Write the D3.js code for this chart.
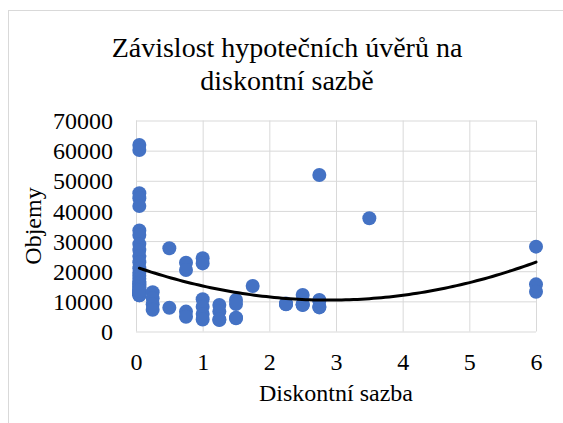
<!DOCTYPE html>
<html>
<head>
<meta charset="utf-8">
<script src="https://cdn.jsdelivr.net/npm/d3@7/dist/d3.min.js"></script>
<style>
  body { margin: 0; background: #fff; }
  svg text { font-family: "Liberation Serif", "Times New Roman", serif; fill: #000; }
</style>
</head>
<body>
<div id="chart"></div>
<script>
// values (many points overlap where the rate stayed the same)
var sazba = [
  0.05, 0.05, 0.05, 0.05, 0.05,
  0.05, 0.05, 0.05, 0.05, 0.05, 0.05, 0.05, 0.05, 0.05, 0.05,
  0.05, 0.05, 0.05, 0.05, 0.05, 0.05, 0.05, 0.05, 0.05, 0.05,
  0.05, 0.05, 0.05, 0.05, 0.05,
  0.25, 0.25, 0.25, 0.25,
  0.5, 0.5,
  0.75, 0.75, 0.75, 0.75,
  1, 1, 1, 1, 1, 1,
  1.25, 1.25, 1.25, 1.25,
  1.5, 1.5, 1.5, 1.5,
  1.75,
  2.25, 2.25, 2.25,
  2.5, 2.5, 2.5, 2.5,
  2.75, 2.75, 2.75, 2.75, 2.75,
  3.5,
  6, 6, 6
];
var objemy = [
  61900, 60200, 45850, 44200, 41650,
  33500, 32000, 29000, 27000, 25000, 23000, 21000, 19500, 18500, 17500,
  16500, 16000, 15500, 15000, 14500, 14000, 13500, 13000, 12500, 12000,
  12000, 12500, 13000, 12500, 13500,
  13000, 11000, 9000, 7200,
  27600, 7900,
  22800, 20400, 6600, 4900,
  24300, 22600, 10700, 8200, 5800, 4000,
  8800, 6600, 3800, 4000,
  10450, 9100, 4400, 4600,
  15100,
  9100, 9300, 9000,
  12100, 8800, 9000, 8900,
  51900, 10450, 8000, 8200, 10200,
  37550,
  28150, 15650, 13200
];
var xTicks = [0, 1, 2, 3, 4, 5, 6];
var yTicks = [0, 10000, 20000, 30000, 40000, 50000, 60000, 70000];
var titleLines = ['Závislost hypotečních úvěrů na', 'diskontní sazbě'];
var xTitle = 'Diskontní sazba';
var yTitle = 'Objemy';

var width = 563, height = 423;
var margin = {top: 120.5, right: 27, bottom: 91.5, left: 136};
var plotW = width - margin.left - margin.right;
var plotH = height - margin.top - margin.bottom;
var serif = '"Liberation Serif", "Times New Roman", serif';

var svg = d3.select('#chart').append('svg')
  .attr('width', width)
  .attr('height', height);

// chart area border (runs past the picture on the right and bottom)
svg.append('rect')
  .attr('x', 8.5).attr('y', 10.5)
  .attr('width', 600).attr('height', 500)
  .attr('fill', '#fff')
  .attr('stroke', '#d9d9d9');

var x = d3.scaleLinear().domain([0, 6]).range([0, plotW]);
var y = d3.scaleLinear().domain([0, 70000]).range([plotH, 0]);

var g = svg.append('g').attr('transform', 'translate(' + margin.left + ',' + margin.top + ')');

// grid
var xGrid = g.append('g')
  .attr('transform', 'translate(0,' + plotH + ')')
  .call(d3.axisBottom(x).tickValues(xTicks).tickSize(-plotH).tickFormat(''));
var yGrid = g.append('g')
  .call(d3.axisLeft(y).tickValues(yTicks).tickSize(-plotW).tickFormat(''));
[xGrid, yGrid].forEach(function(ax){
  ax.select('.domain').remove();
  ax.selectAll('line').attr('stroke', '#d9d9d9').attr('stroke-width', 1);
});

// tick labels
var xAxis = g.append('g')
  .attr('transform', 'translate(0,' + plotH + ')')
  .call(d3.axisBottom(x).tickValues(xTicks).tickSize(0).tickPadding(0).tickFormat(d3.format('d')));
xAxis.select('.domain').remove();
xAxis.attr('font-family', serif).attr('font-size', 24);
xAxis.selectAll('text')
  .attr('y', 38).attr('dy', null)
  .style('font-family', serif)
  .style('font-size', '24px');

var yAxis = g.append('g')
  .call(d3.axisLeft(y).tickValues(yTicks).tickSize(0).tickPadding(23).tickFormat(d3.format('d')));
yAxis.select('.domain').remove();
yAxis.attr('font-family', serif).attr('font-size', 24);
yAxis.selectAll('text')
  .attr('dy', '0.34em')
  .style('font-family', serif)
  .style('font-size', '24px');

// points
var pts = sazba.map(function(s, i){ return {x: s, y: objemy[i]}; });
g.selectAll('circle.pt')
  .data(pts)
  .enter().append('circle')
  .attr('class', 'pt')
  .attr('cx', function(d){ return x(d.x); })
  .attr('cy', function(d){ return y(d.y); })
  .attr('r', 7)
  .attr('fill', '#4472c4');

// second order polynomial trendline (least squares)
function polyFit(xs, ys){
  var n = xs.length, s = [0,0,0,0,0], t = [0,0,0];
  for (var i = 0; i < n; i++){
    var p = 1;
    for (var k = 0; k < 5; k++){ s[k] += p; if (k < 3) t[k] += p * ys[i]; p *= xs[i]; }
  }
  var A = [[s[0], s[1], s[2], t[0]], [s[1], s[2], s[3], t[1]], [s[2], s[3], s[4], t[2]]];
  for (var c = 0; c < 3; c++){
    for (var r = c + 1; r < 3; r++){
      var f = A[r][c] / A[c][c];
      for (var j = c; j < 4; j++) A[r][j] -= f * A[c][j];
    }
  }
  var b = [0,0,0];
  for (var r2 = 2; r2 >= 0; r2--){
    var v = A[r2][3];
    for (var j2 = r2 + 1; j2 < 3; j2++) v -= A[r2][j2] * b[j2];
    b[r2] = v / A[r2][r2];
  }
  return b;
}
var coef = polyFit(sazba, objemy);
var xMin = d3.min(sazba), xMax = d3.max(sazba);
var trend = d3.range(0, 101).map(function(i){
  var xv = xMin + (xMax - xMin) * i / 100;
  return {x: xv, y: coef[0] + coef[1] * xv + coef[2] * xv * xv};
});
g.append('path')
  .datum(trend)
  .attr('fill', 'none')
  .attr('stroke', '#000')
  .attr('stroke-width', 3)
  .attr('stroke-linecap', 'round')
  .attr('d', d3.line().x(function(d){ return x(d.x); }).y(function(d){ return y(d.y); }));

// titles
svg.append('text')
  .attr('text-anchor', 'middle')
  .style('font-size', '28px')
  .selectAll('tspan')
  .data(titleLines)
  .enter().append('tspan')
  .attr('x', 287)
  .attr('y', function(d, i){ return 57 + i * 33; })
  .text(function(d){ return d; });

svg.append('text')
  .attr('text-anchor', 'middle')
  .attr('x', margin.left + plotW / 2)
  .attr('y', 401)
  .style('font-size', '24px')
  .text(xTitle);

svg.append('text')
  .attr('text-anchor', 'middle')
  .attr('transform', 'translate(41,' + (margin.top + plotH / 2) + ') rotate(-90)')
  .style('font-size', '24px')
  .text(yTitle);
</script>
</body>
</html>
